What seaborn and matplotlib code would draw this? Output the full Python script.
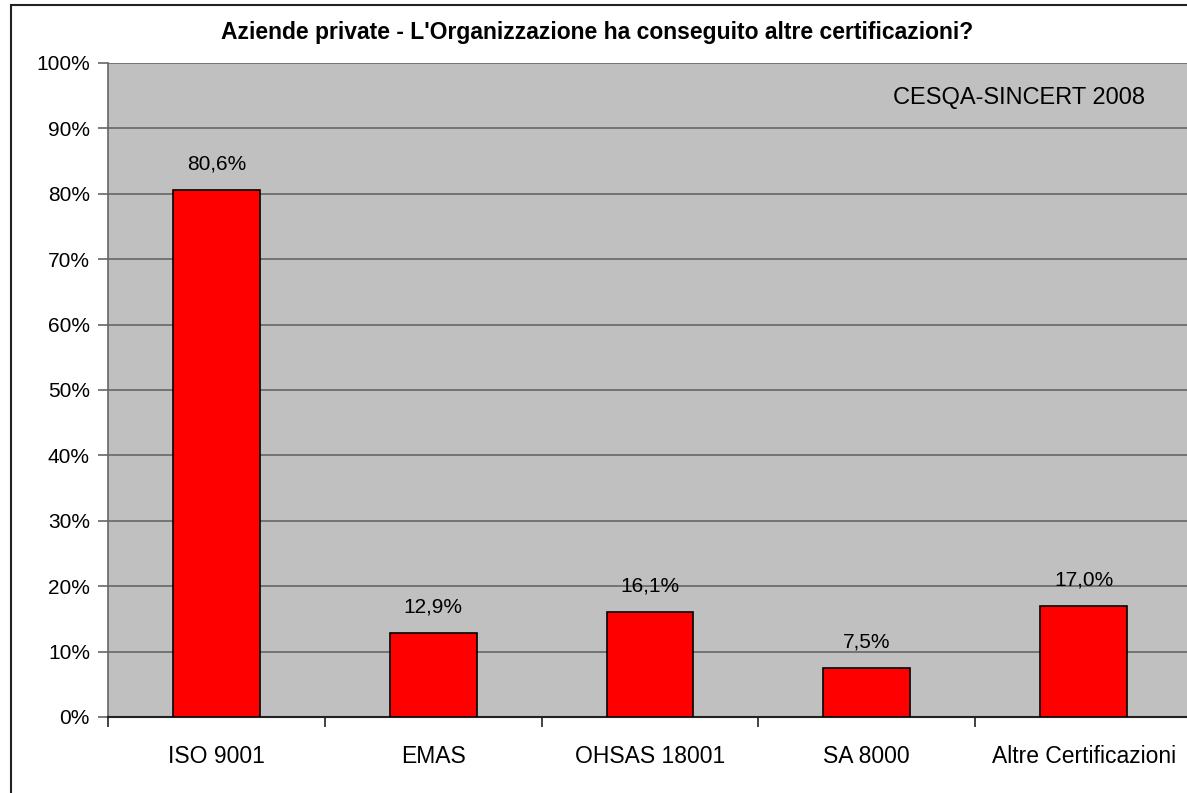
import matplotlib.pyplot as plt
from matplotlib.patches import Rectangle
from matplotlib.ticker import FixedLocator, PercentFormatter
import seaborn as sns
import pandas as pd

# Data
CATEGORIES = ['ISO 9001', 'EMAS', 'OHSAS 18001', 'SA 8000', 'Altre Certificazioni']
VALUES = [80.6, 12.9, 16.1, 7.5, 17.0]
TITLE = "Aziende private - L'Organizzazione ha conseguito altre certificazioni?"
SOURCE = 'CESQA-SINCERT 2008'

# Config
BG_PLOT = '#C0C0C0'
BAR_COLOR = '#FF0000'
GRID_COLOR = '#666666'
FONT = ['Liberation Sans', 'DejaVu Sans']

df = pd.DataFrame({'cat': CATEGORIES, 'val': VALUES})

sns.set_theme(style='white', rc={'axes.facecolor': BG_PLOT, 'figure.facecolor': 'white',
                                 'text.color': 'black'})
plt.rcParams['font.family'] = FONT

fig = plt.figure(figsize=(11.87, 7.93), dpi=100)
ax = fig.add_axes([108 / 1187, 76 / 793, 1084 / 1187, 654 / 793])

sns.barplot(data=df, x='cat', y='val', color=BAR_COLOR, saturation=1, width=0.4,
            edgecolor='black', linewidth=1.2, ax=ax, zorder=3)

ax.set_ylim(0, 100)
ax.set_xlim(-0.5, len(CATEGORIES) - 0.5)
ax.yaxis.set_major_locator(FixedLocator(range(0, 101, 10)))
ax.yaxis.set_major_formatter(PercentFormatter(decimals=0))
ax.grid(axis='y', color=GRID_COLOR, linewidth=1.2, zorder=0)
ax.set_axisbelow(True)
ax.set_xlabel('')
ax.set_ylabel('')

# ticks between categories
ax.xaxis.set_minor_locator(FixedLocator([i - 0.5 for i in range(len(CATEGORIES) + 1)]))
ax.tick_params(axis='x', which='major', length=0, labelsize=16.5, pad=20)
ax.tick_params(axis='x', which='minor', bottom=True, length=7, width=1.2, color='#222222')
ax.tick_params(axis='y', left=True, length=7, width=1.2, color=GRID_COLOR, labelsize=15, pad=6)
for lbl in ax.get_xticklabels() + ax.get_yticklabels():
    lbl.set_color('black')

for side in ['top', 'right']:
    ax.spines[side].set_visible(False)
ax.spines['left'].set_color(GRID_COLOR)
ax.spines['left'].set_linewidth(1.2)
ax.spines['bottom'].set_color('#222222')
ax.spines['bottom'].set_linewidth(1.5)

# value labels
for i, v in enumerate(VALUES):
    ax.text(i, v + 2.5, f'{v:.1f}%'.replace('.', ','), ha='center', va='bottom',
            fontsize=15, color='black')

ax.text(0.84, 0.947, SOURCE, transform=ax.transAxes, ha='center', va='center',
        fontsize=17, color='black')

fig.text(597 / 1187, 1 - 32 / 793, TITLE, ha='center', va='center', fontsize=16.5,
         fontweight='bold', color='black')

# outer border
fig.patches.append(Rectangle((11 / 1187, -0.1), 1.2, 1.1 - 5 / 793, transform=fig.transFigure,
                             fill=False, edgecolor='#222222', linewidth=1.5, zorder=0))

plt.savefig('out.png', dpi=100)
